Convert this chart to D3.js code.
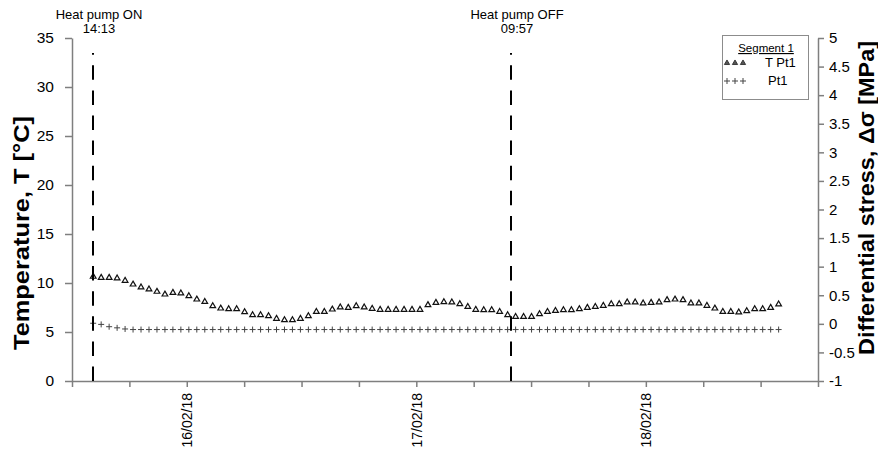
<!DOCTYPE html>
<html>
<head>
<meta charset="utf-8">
<script src="https://cdn.jsdelivr.net/npm/d3@7"></script>
<style>
  html, body { margin: 0; padding: 0; background: #fff; }
  svg { display: block; font-family: "Liberation Sans", Arial, sans-serif; }
</style>
</head>
<body>
<svg id="chart" width="878" height="460"></svg>
<script>
// ---------------- DATA ----------------
const seriesStart = "2018-02-15T14:13";
const sampleStepMinutes = 50;
// Temperature T Pt1 [°C] (left axis)
const tempPt1 = [10.65, 10.54, 10.54, 10.48, 10.24, 9.86, 9.56, 9.36, 9.12, 8.84,
  9.01, 8.95, 8.67, 8.33, 8.09, 7.65, 7.41, 7.35, 7.35, 7.04,
  6.73, 6.73, 6.63, 6.36, 6.22, 6.22, 6.36, 6.63, 7.07, 7.07,
  7.31, 7.52, 7.48, 7.65, 7.52, 7.38, 7.28, 7.28, 7.28, 7.28,
  7.28, 7.28, 7.76, 7.99, 8.06, 8.03, 7.86, 7.58, 7.28, 7.24,
  7.24, 7.07, 6.73, 6.56, 6.56, 6.56, 6.84, 7.07, 7.17, 7.24,
  7.24, 7.35, 7.48, 7.58, 7.69, 7.86, 7.86, 8.03, 8.03, 7.93,
  7.99, 8.03, 8.27, 8.33, 8.27, 7.93, 7.93, 7.69, 7.41, 7.07,
  7.07, 7.01, 7.14, 7.35, 7.35, 7.48, 7.83];
// Differential stress Pt1 [MPa] (right axis)
const stressPt1 = [0.01, -0.01, -0.05, -0.07, -0.09, -0.1, -0.1, -0.1, -0.1, -0.1,
  -0.1, -0.1, -0.1, -0.1, -0.1, -0.1, -0.1, -0.1, -0.1, -0.1,
  -0.1, -0.1, -0.1, -0.1, -0.1, -0.1, -0.1, -0.1, -0.1, -0.1,
  -0.1, -0.1, -0.1, -0.1, -0.1, -0.1, -0.1, -0.1, -0.1, -0.1,
  -0.1, -0.1, -0.1, -0.1, -0.1, -0.1, -0.1, -0.1, -0.1, -0.1,
  -0.1, -0.1, -0.1, -0.1, -0.1, -0.1, -0.1, -0.1, -0.1, -0.1,
  -0.1, -0.1, -0.1, -0.1, -0.1, -0.1, -0.1, -0.1, -0.1, -0.1,
  -0.1, -0.1, -0.1, -0.1, -0.1, -0.1, -0.1, -0.1, -0.1, -0.1,
  -0.1, -0.1, -0.1, -0.1, -0.1, -0.1, -0.1];
const xDomain = ["2018-02-15T12:00", "2018-02-18T18:00"];
const leftTicks = [0, 5, 10, 15, 20, 25, 30, 35];
const rightTicks = [-1, -0.5, 0, 0.5, 1, 1.5, 2, 2.5, 3, 3.5, 4, 4.5, 5];
const events = [
  { time: "2018-02-15T14:13", label: "Heat pump ON", clock: "14:13" },
  { time: "2018-02-17T09:57", label: "Heat pump OFF", clock: "09:57" }
];
const legendTitle = "Segment 1";
const legendLabels = ["T Pt1", "Pt1"];
const leftTitle = "Temperature, T [°C]";
const rightTitle = "Differential stress, Δσ [MPa]";

// ---------------- CHART ----------------
const parse = d3.timeParse("%Y-%m-%dT%H:%M");
const svg = d3.select("#chart");
const plot = { left: 72, right: 818, top: 38, bottom: 381 };

const x = d3.scaleTime().domain(xDomain.map(parse)).range([plot.left, plot.right]);
const yL = d3.scaleLinear().domain([0, 35]).range([plot.bottom, plot.top]);
const yR = d3.scaleLinear().domain([-1, 5]).range([plot.bottom, plot.top]);

const t0 = parse(seriesStart);
const times = tempPt1.map((_, i) => d3.timeMinute.offset(t0, i * sampleStepMinutes));

const axisColor = "#7f7f7f";
function styleAxis(g) {
  g.selectAll("path.domain").attr("stroke", axisColor).attr("stroke-width", 1.5);
  g.selectAll(".tick line").attr("stroke", axisColor).attr("stroke-width", 1.5);
  g.selectAll(".tick text").attr("fill", "#000").attr("font-family", "Liberation Sans, Arial, sans-serif");
}

// left axis
const gL = svg.append("g").attr("transform", `translate(${plot.left},0)`)
  .call(d3.axisLeft(yL).tickValues(leftTicks).tickSize(7).tickPadding(11).tickSizeOuter(0).tickFormat(d => String(d)));
gL.selectAll(".tick text").attr("font-size", 15.5);
styleAxis(gL);

// right axis
const gR = svg.append("g").attr("transform", `translate(${plot.right},0)`)
  .call(d3.axisRight(yR).tickValues(rightTicks).tickSize(6).tickPadding(5).tickSizeOuter(0).tickFormat(d => String(d)));
gR.selectAll(".tick text").attr("font-size", 15);
styleAxis(gR);

// bottom axis
const xTicks = d3.timeHour.every(6).range(x.domain()[0], d3.timeHour.offset(x.domain()[1], 1));
const gX = svg.append("g").attr("transform", `translate(0,${plot.bottom})`)
  .call(d3.axisBottom(x).tickValues(xTicks).tickSize(6).tickSizeOuter(0)
    .tickFormat(d => d.getHours() === 0 ? d3.timeFormat("%d/%m/%y")(d) : ""));
styleAxis(gX);
gX.selectAll(".tick text")
  .attr("font-size", 14)
  .attr("transform", "rotate(-90)")
  .attr("text-anchor", "end")
  .attr("x", -12)
  .attr("y", 0)
  .attr("dy", "0.35em");

// axis titles
svg.append("text")
  .attr("transform", `translate(29,233) rotate(-90)`)
  .attr("text-anchor", "middle")
  .attr("font-size", 22).attr("font-weight", "bold").attr("fill", "#000")
  .attr("textLength", 234).attr("lengthAdjust", "spacingAndGlyphs")
  .text(leftTitle);
svg.append("text")
  .attr("transform", `translate(874,198) rotate(-90)`)
  .attr("text-anchor", "middle")
  .attr("font-size", 22).attr("font-weight", "bold").attr("fill", "#000")
  .attr("textLength", 314).attr("lengthAdjust", "spacingAndGlyphs")
  .text(rightTitle);

// markers
const tri = d3.symbol().type(d3.symbolTriangle).size(14);
svg.append("g").selectAll("path")
  .data(tempPt1)
  .join("path")
  .attr("d", tri)
  .attr("transform", (d, i) => `translate(${x(times[i])},${yL(d)})`)
  .attr("fill", "#fff").attr("stroke", "#111").attr("stroke-width", 1.2);

svg.append("g").selectAll("path")
  .data(stressPt1)
  .join("path")
  .attr("d", "M-3,0H3M0,-3V3")
  .attr("transform", (d, i) => `translate(${x(times[i])},${yR(d)})`)
  .attr("fill", "none").attr("stroke", "#444").attr("stroke-width", 1);

// event lines + annotations
const ev = svg.append("g");
events.forEach(e => {
  const xe = Math.round(x(parse(e.time)));
  ev.append("line")
    .attr("x1", xe).attr("x2", xe).attr("y1", plot.bottom).attr("y2", 53)
    .attr("stroke", "#000").attr("stroke-width", 2).attr("stroke-dasharray", "14.5,10.6");
  ev.append("text").attr("x", xe + 6).attr("y", 19).attr("text-anchor", "middle")
    .attr("font-size", 13).attr("fill", "#000").text(e.label);
  ev.append("text").attr("x", xe + 6).attr("y", 33).attr("text-anchor", "middle")
    .attr("font-size", 13).attr("fill", "#000").text(e.clock);
});

// legend
const lg = svg.append("g");
lg.append("rect").attr("x", 722.5).attr("y", 35.5).attr("width", 86).attr("height", 64)
  .attr("fill", "#fff").attr("stroke", "#8c8c8c").attr("stroke-width", 1);
lg.append("text").attr("x", 766).attr("y", 52).attr("text-anchor", "middle")
  .attr("font-size", 11.5).attr("text-decoration", "underline").attr("fill", "#000").text(legendTitle);
[727, 735, 743].forEach(px => {
  lg.append("path").attr("d", d3.symbol().type(d3.symbolTriangle).size(12))
    .attr("transform", `translate(${px},63)`).attr("fill", "#555").attr("stroke", "#222").attr("stroke-width", 0.8);
  lg.append("path").attr("d", "M-3,0H3M0,-3V3")
    .attr("transform", `translate(${px},81)`).attr("fill", "none").attr("stroke", "#444").attr("stroke-width", 1);
});
lg.append("text").attr("x", 765).attr("y", 67).attr("font-size", 13).attr("fill", "#000").text(legendLabels[0]);
lg.append("text").attr("x", 768).attr("y", 85).attr("font-size", 13).attr("fill", "#000").text(legendLabels[1]);
</script>
</body>
</html>
